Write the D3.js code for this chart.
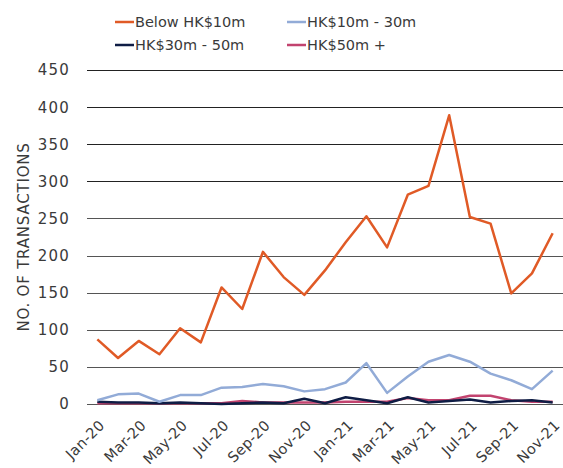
<!DOCTYPE html>
<html>
<head>
<meta charset="utf-8">
<script src="https://cdn.jsdelivr.net/npm/d3@7"></script>
<style>
  body { margin: 0; background: #fff; }
  text { font-family: "DejaVu Sans", sans-serif; fill: #3a3a3a; }
</style>
</head>
<body>
<div class="chart"></div>
<script>
var months = ["Jan-20","Feb-20","Mar-20","Apr-20","May-20","Jun-20","Jul-20","Aug-20","Sep-20","Oct-20","Nov-20","Dec-20",
              "Jan-21","Feb-21","Mar-21","Apr-21","May-21","Jun-21","Jul-21","Aug-21","Sep-21","Oct-21","Nov-21"];
var below10 = [87,62,85,67,102,83,157,128,205,171,147,180,218,253,211,282,294,389,252,243,149,176,230];
var hk10to30 = [5,13,14,3,12,12,22,23,27,24,17,20,29,55,15,37,57,66,57,41,32,20,45];
var hk30to50 = [3,2,2,1,2,1,0,1,2,1,7,1,9,5,1,9,2,4,6,2,4,5,2];
var hk50plus = [1,1,1,1,1,1,1,4,2,2,2,2,3,3,3,8,5,5,11,11,5,3,3];
var yTicks = [0,50,100,150,200,250,300,350,400,450];

var series = [
  {name: "Below HK$10m", values: below10, color: "#e05a26"},
  {name: "HK$10m - 30m", values: hk10to30, color: "#92abd7"},
  {name: "HK$30m - 50m", values: hk30to50, color: "#0f1d45"},
  {name: "HK$50m +", values: hk50plus, color: "#c2436f"}
];

function chart() {
    var margin = {top: 70, right: 0, bottom: 64, left: 87};
    var W = 563, H = 468;
    var width = W - margin.left - margin.right;
    var height = H - margin.top - margin.bottom;

    var x = d3.scalePoint()
                .domain(months)
                .range([0, width])
                .padding(0.5);

    var y = d3.scaleLinear()
                .domain([0, 450])
                .range([height, 0]);

    var svg = d3.select(".chart").append("svg")
            .attr("width", W)
            .attr("height", H)
            .append("g")
            .attr("transform", "translate(" + margin.left + "," + margin.top + ")");

    // gridlines
    svg.append("g")
            .selectAll("line")
            .data(yTicks)
            .enter().append("line")
            .attr("x1", 0)
            .attr("x2", width)
            .attr("y1", function (d) { return Math.round(y(d)) + 0.5; })
            .attr("y2", function (d) { return Math.round(y(d)) + 0.5; })
            .attr("stroke", function (d) { return d > 250 ? "#222" : "#555"; })
            .attr("stroke-width", 1.2);

    // y labels
    svg.append("g")
            .selectAll("text")
            .data(yTicks)
            .enter().append("text")
            .attr("x", -17)
            .attr("y", function (d) { return y(d); })
            .attr("dy", "0.36em")
            .attr("text-anchor", "end")
            .style("font-size", "15px")
            .style("letter-spacing", "1.2px")
            .text(function (d) { return d; });

    svg.append("text")
            .attr("transform", "translate(" + (-58) + "," + (height / 2) + ") rotate(-90)")
            .attr("text-anchor", "middle")
            .style("font-size", "15px")
            .style("letter-spacing", "0.8px")
            .text("NO. OF TRANSACTIONS");

    // x labels every other month
    svg.append("g")
            .selectAll("text")
            .data(months.filter(function (d, i) { return i % 2 === 0; }))
            .enter().append("text")
            .attr("transform", function (d) { return "translate(" + (x(d) + 1) + "," + (height + 15) + ") rotate(-45)"; })
            .attr("text-anchor", "end")
            .attr("dy", "0.7em")
            .style("font-size", "14.5px")
            .style("letter-spacing", "0.3px")
            .text(function (d) { return d; });

    var line = d3.line()
            .x(function (d, i) { return x(months[i]); })
            .y(function (d) { return y(d); });

    svg.append("g")
            .selectAll("path")
            .data(series.slice().reverse())
            .enter().append("path")
            .attr("d", function (s) { return line(s.values); })
            .attr("fill", "none")
            .attr("stroke", function (s) { return s.color; })
            .attr("stroke-width", 2.5)
            .attr("stroke-linejoin", "round");

    // legend
    var legend = d3.select("svg").append("g");
    var pos = [[115, 22], [287, 22], [115, 45], [287, 45]];
    series.forEach(function (s, i) {
        var g = legend.append("g").attr("transform", "translate(" + pos[i][0] + "," + pos[i][1] + ")");
        g.append("line").attr("x1", 0).attr("x2", 19).attr("y1", 0).attr("y2", 0)
            .attr("stroke", s.color).attr("stroke-width", 2.5);
        g.append("text").attr("x", 20).attr("dy", "0.36em").style("font-size", "14.5px").text(s.name);
    });
}

chart();
</script>
</body>
</html>
